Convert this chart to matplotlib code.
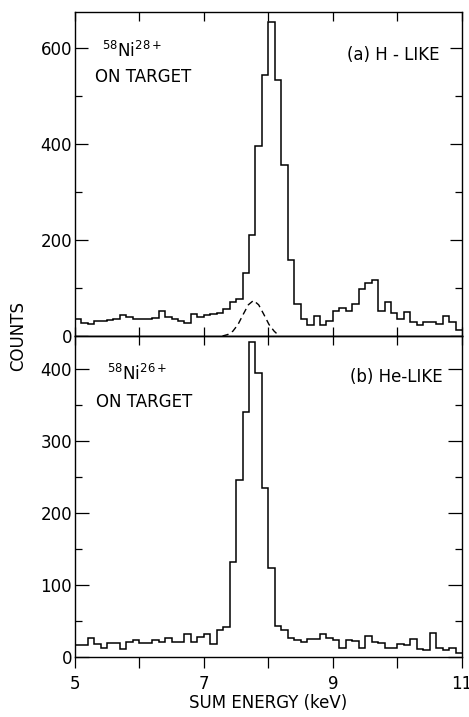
import numpy as np
import matplotlib
matplotlib.use("Agg")
import matplotlib.pyplot as plt
from matplotlib.ticker import MultipleLocator, FixedLocator

plt.rcParams['font.family'] = ['DejaVu Sans']
plt.rcParams['mathtext.default'] = 'regular'

# ---- data ----
energy_start = 5.0   # keV
bin_width = 0.1      # keV
n_bins = 60

# (a) H-like 58Ni28+ spectrum, counts per 0.1 keV bin from 5.0 to 11.0 keV
counts_h_like = [35, 28, 24, 31, 31, 33, 35, 44, 39, 36,
                 35, 35, 38, 52, 39, 35, 32, 28, 46, 40,
                 43, 45, 47, 56, 70, 78, 131, 211, 395, 543,
                 654, 533, 356, 159, 67, 36, 22, 41, 22, 31,
                 52, 59, 52, 66, 98, 110, 116, 53, 71, 47,
                 36, 50, 29, 22, 29, 29, 24, 41, 29, 13]

# (b) He-like 58Ni26+ spectrum
counts_he_like = [17, 17, 26, 18, 13, 19, 20, 11, 21, 24,
                  20, 20, 24, 21, 27, 21, 21, 32, 21, 28,
                  32, 18, 38, 42, 132, 246, 341, 437, 394, 235,
                  124, 43, 37, 26, 24, 21, 25, 25, 32, 27,
                  24, 13, 23, 22, 13, 29, 21, 19, 12, 13,
                  18, 17, 25, 11, 10, 33, 12, 10, 12, 6]

# dashed component in (a)
gauss_energy = [7.29, 7.37, 7.45, 7.53, 7.61, 7.69, 7.77, 7.85, 7.93, 8.01, 8.09, 8.17]
gauss_counts = [0, 3, 10, 24, 45, 65, 74, 65, 45, 24, 10, 0]

x_ticks = [5, 6, 7, 8, 9, 10, 11]
x_ticklabels = ['5', '', '7', '', '9', '', '11']
yticks_a = [0, 200, 400, 600]
yticks_b = [0, 100, 200, 300, 400]

edges = energy_start + bin_width * np.arange(n_bins + 1)

# ---- figure ----
W, H = 469, 717
fig = plt.figure(figsize=(W / 100, H / 100), dpi=100)
left, right = 74.7, 462.0
top_a, mid, bot_b = 12.0, 336.0, 657.0
ax1 = fig.add_axes([left / W, 1 - mid / H, (right - left) / W, (mid - top_a) / H])
ax2 = fig.add_axes([left / W, 1 - bot_b / H, (right - left) / W, (bot_b - mid) / H])

lw = 1.1
for ax in (ax1, ax2):
    for s in ax.spines.values():
        s.set_linewidth(1.0)
    ax.set_xlim(5, 11)

ax1.stairs(counts_h_like, edges, baseline=None, color='black', lw=lw)
ax1.plot(gauss_energy, gauss_counts, color='black', lw=1.0, dashes=(4.5, 3))
ax2.stairs(counts_he_like, edges, baseline=None, color='black', lw=lw)

ax1.set_ylim(0, 675)
ax2.set_ylim(0, 446)

# ticks panel (a)
ax1.xaxis.set_major_locator(FixedLocator(x_ticks))
ax1.tick_params(axis='x', which='major', direction='in', top=True, bottom=True,
                labelbottom=False, length=6.5, width=0.9)
ax1.yaxis.set_major_locator(FixedLocator(yticks_a))
ax1.yaxis.set_minor_locator(MultipleLocator(100))
ax1.tick_params(axis='y', which='major', direction='in', left=True, right=True,
                length=9, width=0.9, labelsize=12, pad=2)
ax1.tick_params(axis='y', which='minor', direction='in', left=True, right=True,
                length=5, width=0.9)

# ticks panel (b)
ax2.xaxis.set_major_locator(FixedLocator(x_ticks))
ax2.set_xticklabels(x_ticklabels)
ax2.tick_params(axis='x', which='major', direction='out', bottom=True, top=False,
                length=8, width=0.9, labelsize=12, pad=5)
ax2.yaxis.set_major_locator(FixedLocator(yticks_b))
ax2.yaxis.set_minor_locator(MultipleLocator(50))
ax2.tick_params(axis='y', which='major', direction='in', left=True, right=True,
                length=10, width=0.9, labelsize=12, pad=2)
ax2.tick_params(axis='y', which='minor', direction='in', left=True, right=True,
                length=5, width=0.9)
# inward ticks at top of panel (b)
sec = ax2.secondary_xaxis('top')
sec.xaxis.set_major_locator(FixedLocator(x_ticks))
sec.tick_params(direction='in', length=6.5, width=0.9, labeltop=False)
sec.spines['top'].set_linewidth(1.0)

ax2.set_xlabel('SUM ENERGY (keV)', fontsize=12, labelpad=1)
fig.text(18 / W, 1 - mid / H, 'COUNTS', rotation=90, fontsize=12,
         ha='center', va='center')

# annotations
ax1.text(0.071, 0.861, r'$^{58}$Ni$^{28+}$', transform=ax1.transAxes,
         fontsize=12, ha='left', va='baseline')
ax1.text(0.052, 0.799, 'ON TARGET', transform=ax1.transAxes,
         fontsize=12, ha='left', va='center')
ax1.text(0.943, 0.867, '(a) H - LIKE', transform=ax1.transAxes,
         fontsize=12, ha='right', va='center')

ax2.text(0.084, 0.863, r'$^{58}$Ni$^{26+}$', transform=ax2.transAxes,
         fontsize=12, ha='left', va='baseline')
ax2.text(0.055, 0.794, 'ON TARGET', transform=ax2.transAxes,
         fontsize=12, ha='left', va='center')
ax2.text(0.949, 0.872, '(b) He-LIKE', transform=ax2.transAxes,
         fontsize=12, ha='right', va='center')

fig.savefig('out.png', dpi=100)
